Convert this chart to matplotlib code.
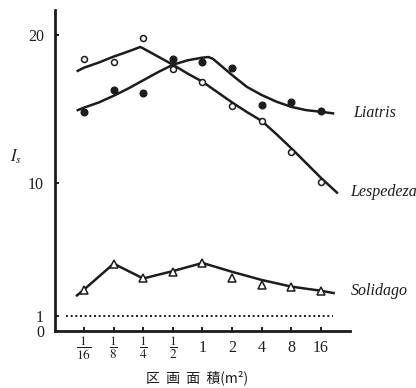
import matplotlib.pyplot as plt

plt.rcParams['mathtext.fontset'] = 'stix'

# plot size on a log2 axis: 1/16 ... 16 m2
areas = [-4, -3, -2, -1, 0, 1, 2, 3, 4]
area_labels = [r'$\dfrac{1}{16}$', r'$\dfrac{1}{8}$', r'$\dfrac{1}{4}$', r'$\dfrac{1}{2}$',
               '1', '2', '4', '8', '16']

# measured Is values (markers)
liatris_pts = [14.8, 16.3, 16.1, 18.4, 18.2, 17.8, 15.3, 15.5, 14.9]
lespedeza_pts = [18.4, 18.2, 19.8, 17.7, 16.8, 15.2, 14.2, 12.1, 10.1]
solidago_pts = [2.8, 4.5, 3.6, 4.0, 4.6, 3.6, 3.1, 3.0, 2.7]

# hand-fitted curves
liatris_cx = [-4.25, -4, -3.5, -3, -2.5, -2, -1.5, -1, -0.5, 0, 0.2, 0.35, 0.5, 1, 1.5, 2, 2.5, 3, 3.5, 4, 4.45]
liatris_cy = [14.9, 15.1, 15.45, 15.9, 16.4, 16.95, 17.5, 18.0, 18.3, 18.48, 18.52, 18.4, 18.15, 17.3, 16.5,
              15.95, 15.5, 15.15, 14.93, 14.82, 14.7]
lespedeza_cx = [-4.25, -4, -3.5, -3, -2.5, -2.1, -2, -1.5, -1, -0.5, 0, 0.5, 1, 1.5, 2, 2.5, 3, 3.5, 4, 4.57]
lespedeza_cy = [17.55, 17.8, 18.15, 18.55, 18.9, 19.2, 19.1, 18.55, 18.0, 17.4, 16.85, 16.15, 15.45, 14.8,
                14.2, 13.3, 12.35, 11.35, 10.35, 9.3]
solidago_cx = [-4.27, -4, -3, -2, -1, 0, 1, 2, 3, 4, 4.47]
solidago_cy = [2.35, 2.8, 4.55, 3.55, 4.05, 4.6, 4.0, 3.45, 3.0, 2.72, 2.55]

ink = '#1c1c1c'

fig = plt.figure(figsize=(4.16, 3.88), dpi=100)
ax = fig.add_axes([55 / 416, 1 - 331 / 388, 295 / 416, 321 / 388])

ax.plot(liatris_cx, liatris_cy, color=ink, lw=1.8, solid_capstyle='butt', solid_joinstyle='round')
ax.plot(lespedeza_cx, lespedeza_cy, color=ink, lw=1.8, solid_capstyle='butt', solid_joinstyle='round')
ax.plot(solidago_cx, solidago_cy, color=ink, lw=1.8, solid_capstyle='butt', solid_joinstyle='round')

ax.plot(areas, liatris_pts, 'o', ms=4.8, color=ink, zorder=3)
ax.plot(areas, lespedeza_pts, 'o', ms=4.3, mfc='white', mec=ink, mew=1.1, zorder=3)
ax.plot(areas, solidago_pts, '^', ms=5.2, mfc='white', mec=ink, mew=1.1, zorder=3)

# Is = 1 reference
ax.plot([-4.6, 4.4], [1, 1], color=ink, lw=1.4, linestyle=(0, (1, 1.4)))

serif = dict(family='Liberation Serif', style='italic', fontsize=11.5, color=ink)
ax.text(5.08, 14.75, 'Liatris', va='center', ha='left', clip_on=False, **serif)
ax.text(4.98, 9.4, 'Lespedeza', va='center', ha='left', clip_on=False, **serif)
ax.text(5.0, 2.7, 'Solidago', va='center', ha='left', clip_on=False, **serif)

ax.set_xlim(-4.98, 4.98)
ax.set_ylim(0, 21.7)
ax.set_xticks(areas)
ax.set_xticklabels(area_labels)
ax.set_yticks([0, 1, 10, 20])
ax.set_yticklabels(['0', '1', '10', '20'])
for lab in ax.get_xticklabels() + ax.get_yticklabels():
    lab.set_fontfamily('Liberation Serif')
    lab.set_fontsize(11.5)
    lab.set_color(ink)
for lab in ax.get_xticklabels():
    lab.set_verticalalignment('center')
for lab in ax.get_xticklabels()[:4]:
    lab.set_fontsize(9.5)
ax.tick_params(direction='in', length=3, width=1.4, color=ink)
ax.tick_params(axis='x', pad=12.5)
ax.tick_params(axis='y', pad=8)

for side in ['top', 'right']:
    ax.spines[side].set_visible(False)
for side in ['left', 'bottom']:
    ax.spines[side].set_linewidth(2.0)
    ax.spines[side].set_color(ink)

fig.text(16 / 416, 1 - 157 / 388, r'$I_s$', fontsize=12, ha='center', va='center', color=ink)
fig.text(197 / 416, 1 - 378 / 388, '区  画  面  積(m²)', family=['Noto Sans CJK JP', 'DejaVu Sans'],
         fontsize=10, ha='center', va='center', color=ink)

fig.savefig('out.png', dpi=100, facecolor='white')
